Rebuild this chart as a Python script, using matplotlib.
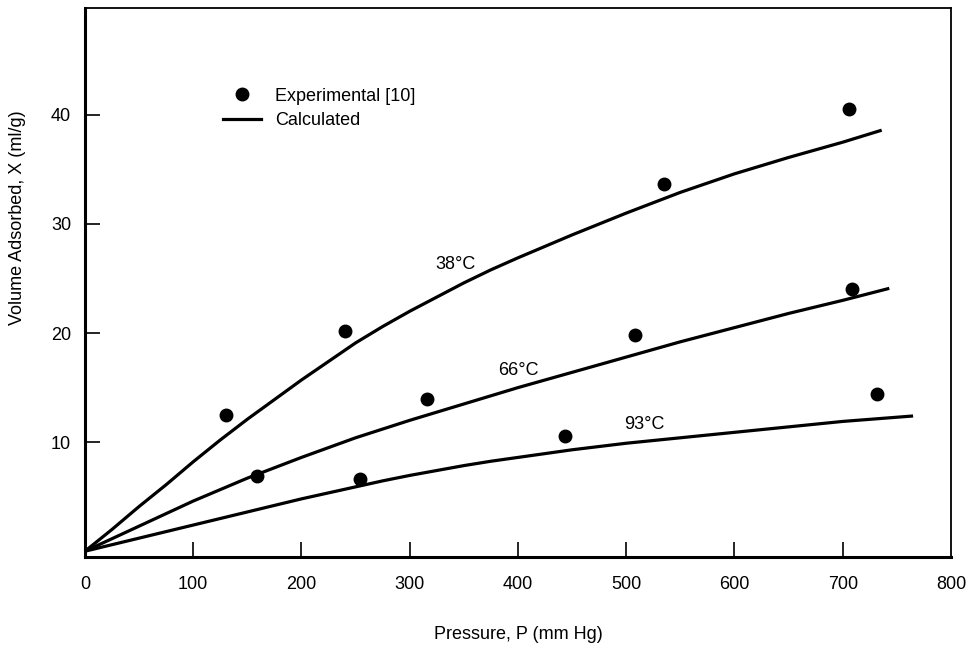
import matplotlib
matplotlib.use("Agg")
import matplotlib.pyplot as plt
from matplotlib.lines import Line2D

plt.rcParams['font.family'] = ['Liberation Sans', 'DejaVu Sans']

# Experimental points
exp38_x = [130, 240, 535, 706]
exp38_y = [12.5, 20.2, 33.7, 40.5]
exp66_x = [159, 316, 508, 709]
exp66_y = [6.9, 14.0, 19.8, 24.0]
exp93_x = [254, 443, 732]
exp93_y = [6.6, 10.6, 14.4]

# Calculated curves
calc38_x = [0, 25, 50, 75, 100, 125, 150, 175, 200, 225, 250, 275, 300, 325, 350, 375, 400, 450, 500, 550, 600, 650, 700, 736]
calc38_y = [0, 2.0, 4.1, 6.1, 8.2, 10.2, 12.1, 13.9, 15.7, 17.4, 19.1, 20.6, 22.0, 23.3, 24.6, 25.8, 26.9, 29.0, 31.0, 32.9, 34.6, 36.1, 37.5, 38.6]
calc66_x = [0, 50, 100, 150, 200, 250, 300, 350, 400, 450, 500, 550, 600, 650, 700, 743]
calc66_y = [0, 2.3, 4.6, 6.7, 8.6, 10.4, 12.0, 13.5, 15.0, 16.4, 17.8, 19.2, 20.5, 21.8, 23.0, 24.1]
calc93_x = [0, 50, 100, 150, 200, 225, 250, 275, 300, 325, 350, 375, 400, 450, 500, 550, 600, 650, 700, 765]
calc93_y = [0, 1.2, 2.4, 3.6, 4.8, 5.35, 5.9, 6.45, 6.95, 7.4, 7.85, 8.25, 8.6, 9.3, 9.9, 10.4, 10.9, 11.4, 11.9, 12.4]

curve_labels = ["38°C", "66°C", "93°C"]
label_pos = [(342, 26.3), (400, 16.6), (517, 11.6)]

xticks = [0, 100, 200, 300, 400, 500, 600, 700, 800]
yticks = [10, 20, 30, 40]

FS = 13

fig = plt.figure(figsize=(9.7, 6.47), dpi=100)
ax = fig.add_axes([0.0876, 0.1396, 0.8928, 0.848])

for cx, cy in [(calc38_x, calc38_y), (calc66_x, calc66_y), (calc93_x, calc93_y)]:
    ax.plot(cx, cy, color='black', lw=2.3, solid_capstyle='butt',
            solid_joinstyle='round', zorder=2)
for ex, ey in [(exp38_x, exp38_y), (exp66_x, exp66_y), (exp93_x, exp93_y)]:
    ax.plot(ex, ey, 'o', color='black', ms=9, zorder=3)

for lab, (lx, ly) in zip(curve_labels, label_pos):
    ax.text(lx, ly, lab, fontsize=FS, ha='center', va='center')

ax.set_xlim(0, 800)
ax.set_ylim(-0.5, 49.8)
ax.set_xticks(xticks)
ax.set_xticklabels([str(t) for t in xticks])
ax.set_yticks(yticks)
ax.set_yticklabels([str(t) for t in yticks])
ax.tick_params(axis='x', direction='in', length=11, width=1.2, pad=14, labelsize=FS)
ax.tick_params(axis='y', direction='in', length=11, width=1.2, pad=10, labelsize=FS)
for t in (ax.xaxis.get_major_ticks()[0], ax.xaxis.get_major_ticks()[-1]):
    t.tick1line.set_visible(False)

ax.spines['left'].set_linewidth(2.2)
ax.spines['bottom'].set_linewidth(2.2)
ax.spines['top'].set_linewidth(1.3)
ax.spines['right'].set_linewidth(1.3)

ax.set_xlabel("Pressure, P (mm Hg)", fontsize=FS)
ax.set_ylabel("Volume Adsorbed, X (ml/g)", fontsize=FS)
ax.xaxis.set_label_coords(0.5, -0.126)
ax.yaxis.set_label_coords(-0.068, 0.617)

handles = [Line2D([], [], marker='o', color='black', ls='none', ms=9),
           Line2D([], [], color='black', lw=2.3)]
ax.legend(handles, ["Experimental [10]", "Calculated"], loc='upper left',
          bbox_to_anchor=(0.151, 0.868), frameon=False, fontsize=FS,
          handlelength=2.1, handletextpad=0.8, labelspacing=0.42,
          borderpad=0.4, borderaxespad=0)

fig.savefig("out.png", dpi=100)
